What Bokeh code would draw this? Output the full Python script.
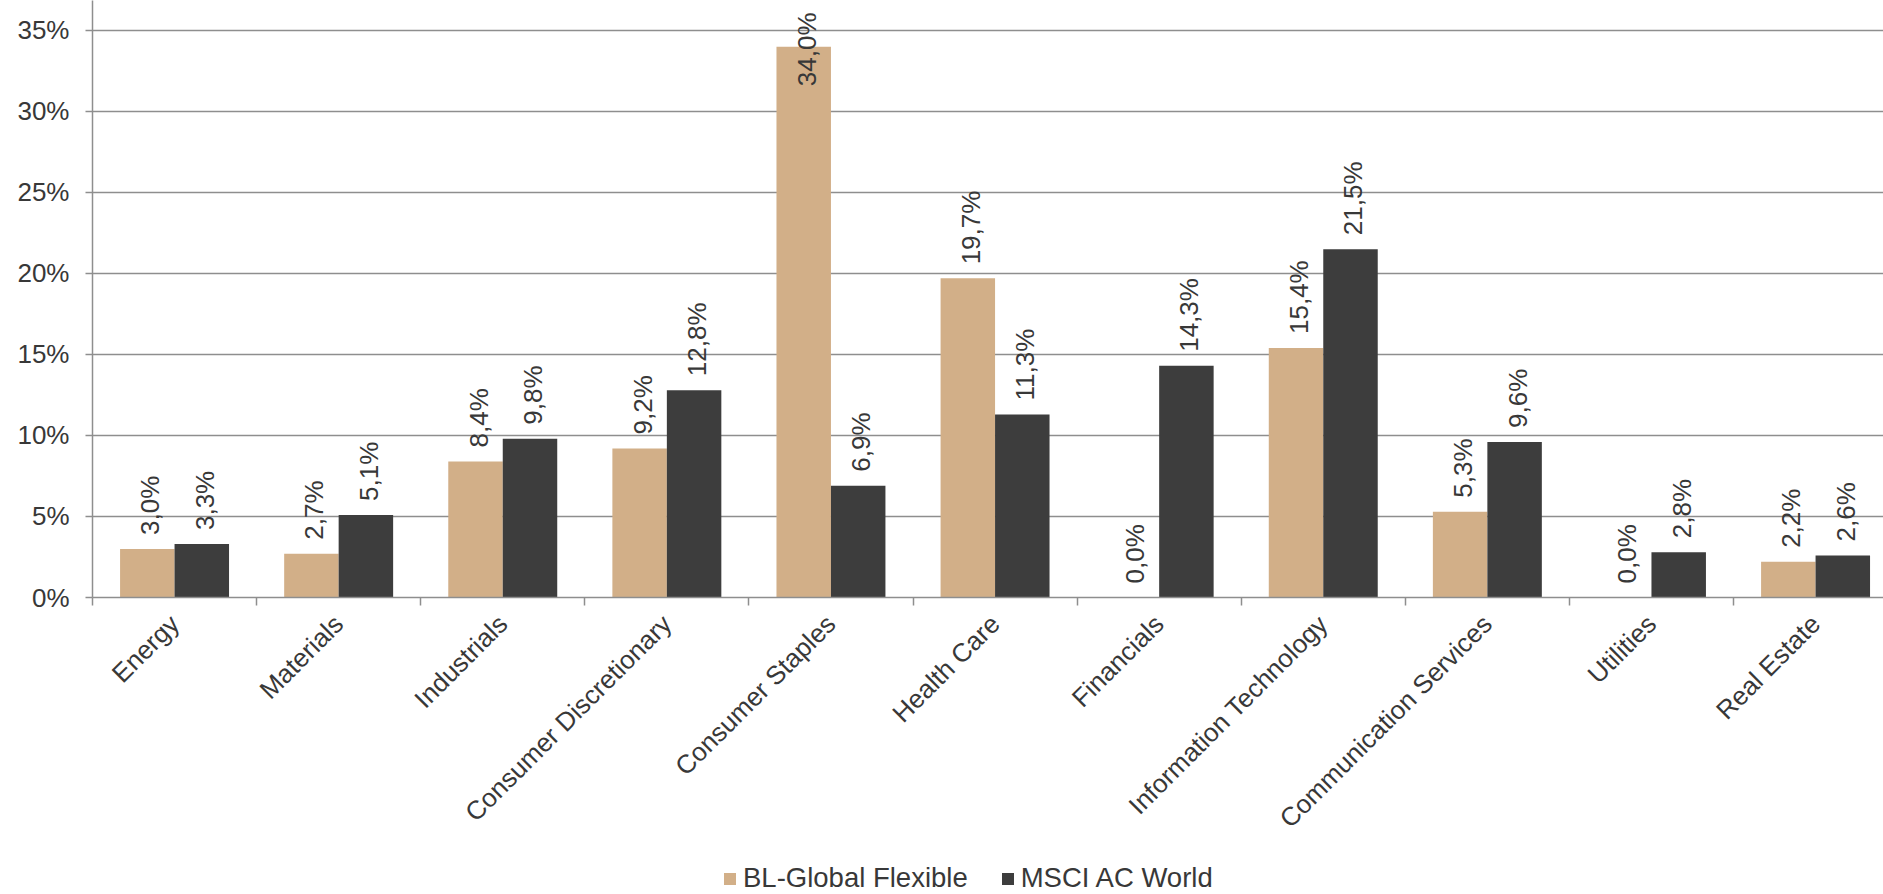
import math

from bokeh.core.properties import value
from bokeh.embed import file_html
from bokeh.layouts import column
from bokeh.models import ColumnDataSource, FixedTicker, Legend, LegendItem, Range1d
from bokeh.plotting import figure
from bokeh.resources import INLINE
from bokeh.transform import dodge

# Sector weights (%) of the fund versus its benchmark
sectors = [
    "Energy", "Materials", "Industrials", "Consumer Discretionary",
    "Consumer Staples", "Health Care", "Financials", "Information Technology",
    "Communication Services", "Utilities", "Real Estate",
]
fund_weights = [3.0, 2.7, 8.4, 9.2, 34.0, 19.7, 0.0, 15.4, 5.3, 0.0, 2.2]
index_weights = [3.3, 5.1, 9.8, 12.8, 6.9, 11.3, 14.3, 21.5, 9.6, 2.8, 2.6]
series_names = ["BL-Global Flexible", "MSCI AC World"]
y_ticks = [0, 5, 10, 15, 20, 25, 30, 35]

FONT = "Liberation Sans"
TAN = "#D2AF88"
DARK = "#3D3D3D"
GRID = "#8E8E8E"
TEXT = "#383838"

BAR_W = 0.332
Y_TOP = 36.85
LABEL_ROOM = 5.5  # data units needed above a bar for its rotated label
CHART_H = 850
LEGEND_H = 44
LEFT = 92


def pct(v):
    return f"{v:.1f}".replace(".", ",") + "%"


pos = list(range(len(sectors)))
src = ColumnDataSource(dict(x=pos, fund=fund_weights, index=index_weights))

p = figure(
    width=1883, height=CHART_H,
    x_range=Range1d(-0.5, 10.414), y_range=Range1d(0, Y_TOP),
    output_backend="svg", toolbar_location=None,
    min_border_left=LEFT, min_border_right=0, min_border_top=0,
    min_border_bottom=CHART_H - 597,
)
p.outline_line_color = None
p.background_fill_color = "white"
p.border_fill_color = "white"

r_fund = p.vbar(x=dodge("x", -BAR_W / 2, range=p.x_range), top="fund", width=BAR_W,
                source=src, fill_color=TAN, line_color=None)
r_index = p.vbar(x=dodge("x", BAR_W / 2, range=p.x_range), top="index", width=BAR_W,
                 source=src, fill_color=DARK, line_color=None)

# value labels, rotated; a label that would run past the top is pinned there
fit = dict(x=[], y=[], t=[])
pinned = dict(x=[], y=[], t=[])
for vals, off in ((fund_weights, -BAR_W / 2), (index_weights, BAR_W / 2)):
    for i, v in enumerate(vals):
        if v + LABEL_ROOM <= Y_TOP:
            fit["x"].append(i + off); fit["y"].append(v); fit["t"].append(pct(v))
        else:
            pinned["x"].append(i + off); pinned["y"].append(Y_TOP); pinned["t"].append(pct(v))

label_style = dict(angle=math.pi / 2, text_baseline="middle", text_font=value(FONT),
                   text_font_size="26px", text_color=TEXT, x_offset=3)
p.text(x="x", y="y", text="t", source=ColumnDataSource(fit), text_align="left",
       y_offset=-14, **label_style)
p.text(x="x", y="y", text="t", source=ColumnDataSource(pinned), text_align="right",
       y_offset=12, **label_style)

# grid
p.xgrid.visible = False
p.ygrid.ticker = FixedTicker(ticks=y_ticks)
p.ygrid.grid_line_color = GRID
p.ygrid.grid_line_width = 1.5

# y axis
ya = p.yaxis[0]
ya.ticker = FixedTicker(ticks=y_ticks)
ya.major_label_overrides = {t: f"{t}%" for t in y_ticks}
ya.major_label_text_font = FONT
ya.major_label_text_font_size = "26px"
ya.major_label_text_color = TEXT
ya.major_label_standoff = 16
ya.axis_line_color = GRID
ya.axis_line_width = 1.5
ya.major_tick_line_color = GRID
ya.major_tick_line_width = 1.5
ya.major_tick_in = 0
ya.major_tick_out = 7
ya.minor_tick_line_color = None

# x axis: names at category centres, small ticks on category boundaries
xa = p.xaxis[0]
xa.ticker = FixedTicker(ticks=pos, minor_ticks=[i - 0.5 for i in pos])
xa.major_label_overrides = {i: s for i, s in enumerate(sectors)}
xa.major_label_orientation = math.pi / 4
xa.major_label_text_font = FONT
xa.major_label_text_font_size = "26px"
xa.major_label_text_color = TEXT
xa.major_label_standoff = 14
xa.axis_line_color = GRID
xa.axis_line_width = 1.5
xa.major_tick_line_color = None
xa.minor_tick_line_color = GRID
xa.minor_tick_line_width = 1.5
xa.minor_tick_in = 0
xa.minor_tick_out = 8

# legend strip beneath the chart; its series renderers are hidden so that
# only their legend swatches are drawn
leg = figure(width=1883, height=LEGEND_H, output_backend="svg", toolbar_location=None,
             x_range=Range1d(-0.5, 10.414), y_range=Range1d(0, Y_TOP),
             x_axis_type=None, y_axis_type=None, min_border=0)
leg.outline_line_color = None
leg.xgrid.visible = False
leg.ygrid.visible = False
sw_fund = leg.vbar(x="x", top="fund", width=BAR_W, source=src, fill_color=TAN, line_color=None)
sw_index = leg.vbar(x="x", top="index", width=BAR_W, source=src, fill_color=DARK, line_color=None)
sw_fund.visible = False
sw_index.visible = False

legend = Legend(
    items=[LegendItem(label=series_names[0], renderers=[sw_fund]),
           LegendItem(label=series_names[1], renderers=[sw_index])],
    orientation="horizontal", location=(722 - LEFT, 0),
    border_line_color=None, background_fill_alpha=0,
    padding=0, margin=0, spacing=32, label_standoff=6,
    glyph_width=15, glyph_height=15,
    label_text_font=FONT, label_text_font_size="27.5px", label_text_color=TEXT,
    label_text_line_height=1.0,
)
leg.add_layout(legend)

open("out.html", "w").write(file_html(column(p, leg, spacing=0), INLINE))
